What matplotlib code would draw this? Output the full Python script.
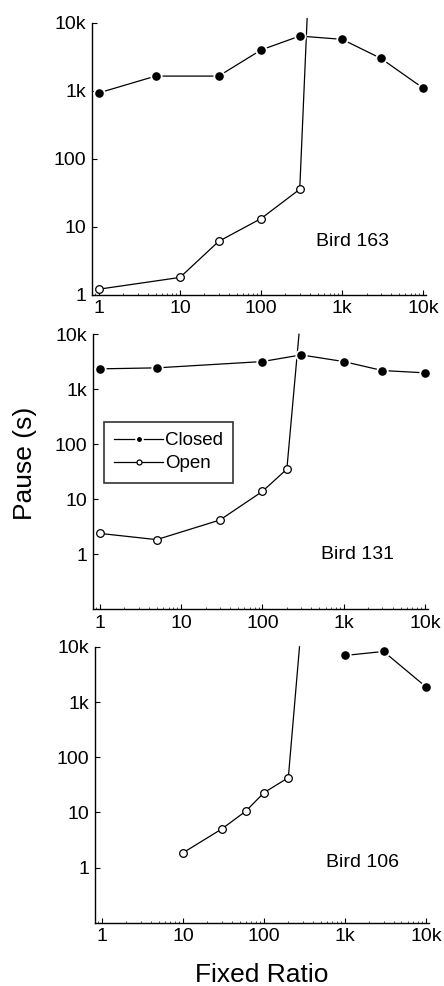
import matplotlib
matplotlib.use('Agg')
import matplotlib.pyplot as plt
from matplotlib.ticker import FixedLocator, FixedFormatter, LogLocator, NullLocator

plt.rcParams['font.family'] = ['Liberation Sans', 'DejaVu Sans']

# Bird 163
b163_closed_x = [1, 5, 30, 100, 300, 1000, 3000, 10000]
b163_closed_y = [930, 1640, 1640, 3970, 6360, 5690, 2990, 1090]
b163_open_x = [1, 10, 30, 100, 300]
b163_open_y = [1.21, 1.8, 6.1, 13.2, 35.6]
b163_rise_x = [300, 370]
b163_rise_y = [35.6, 11500]

# Bird 131
b131_closed_x = [1, 5, 100, 300, 1000, 3000, 10000]
b131_closed_y = [2350, 2450, 3190, 4215, 3190, 2190, 1990]
b131_open_x = [1, 5, 30, 100, 200]
b131_open_y = [2.4, 1.85, 4.2, 13.9, 35.4]
b131_rise_x = [200, 282]
b131_rise_y = [35.4, 10000]

# Bird 106
b106_closed_x = [1000, 3000, 10000]
b106_closed_y = [6970, 8240, 1890]
b106_open_x = [10, 30, 60, 100, 200]
b106_open_y = [1.86, 5.0, 10.6, 22.8, 42.6]
b106_rise_x = [200, 275]
b106_rise_y = [42.6, 10000]

tick_vals = [1, 10, 100, 1000, 10000]
tick_text = ['1', '10', '100', '1k', '10k']

panels = [
    ('Bird 163', b163_closed_x, b163_closed_y, b163_open_x, b163_open_y, b163_rise_x, b163_rise_y),
    ('Bird 131', b131_closed_x, b131_closed_y, b131_open_x, b131_open_y, b131_rise_x, b131_rise_y),
    ('Bird 106', b106_closed_x, b106_closed_y, b106_open_x, b106_open_y, b106_rise_x, b106_rise_y),
]

# [left, bottom, width, height] in figure fraction
boxes = [
    [0.207, 0.701, 0.753, 0.276],
    [0.209, 0.382, 0.755, 0.279],
    [0.214, 0.064, 0.752, 0.280],
]
ylims = [(1, 10000), (0.1, 10000), (0.1, 10000)]
label_pos = [(0.78, 0.195), (0.79, 0.20), (0.80, 0.22)]

fig = plt.figure(figsize=(4.44, 9.86), dpi=100)

for i, (name, cx, cy, ox, oy, rx, ry) in enumerate(panels):
    ax = fig.add_axes(boxes[i])
    ax.set_xscale('log')
    ax.set_yscale('log')

    ax.plot(rx, ry, color='black', lw=0.9, clip_on=False, zorder=2)
    ax.plot(cx, cy, color='black', lw=0.9, marker='o', markersize=7.5,
            markerfacecolor='black', markeredgecolor='white', markeredgewidth=1.3,
            clip_on=False, zorder=3, label='Closed')
    ax.plot(ox, oy, color='black', lw=0.9, marker='o', markersize=5.5,
            markerfacecolor='white', markeredgecolor='black', markeredgewidth=0.9,
            clip_on=False, zorder=3, label='Open')

    ax.set_xlim(0.82, 10900)
    ax.set_ylim(*ylims[i])

    for s in ['top', 'right']:
        ax.spines[s].set_visible(False)
    for s in ['left', 'bottom']:
        ax.spines[s].set_linewidth(1.0)

    ax.xaxis.set_major_locator(FixedLocator(tick_vals))
    ax.xaxis.set_major_formatter(FixedFormatter(tick_text))
    ax.xaxis.set_minor_locator(LogLocator(base=10, subs=range(2, 10)))
    ax.yaxis.set_major_locator(FixedLocator(tick_vals))
    ax.yaxis.set_major_formatter(FixedFormatter(tick_text))
    ax.yaxis.set_minor_locator(NullLocator())
    ax.tick_params(which='major', direction='in', length=3.5, width=0.8,
                   labelsize=14, pad=4)
    ax.tick_params(which='minor', direction='in', length=1.5, width=0.5)

    ax.text(label_pos[i][0], label_pos[i][1], name, transform=ax.transAxes,
            ha='center', va='center', fontsize=14)

    if i == 1:
        leg = ax.legend(loc='upper left', bbox_to_anchor=(0.005, 0.715),
                        fontsize=13.5, frameon=True, fancybox=False,
                        edgecolor='black', handlelength=2.6, handletextpad=0.1,
                        borderpad=0.55, labelspacing=0.3, markerscale=0.65)
        leg.get_frame().set_linewidth(1.2)

fig.text(0.056, 0.530, 'Pause (s)', rotation=90, ha='center', va='center', fontsize=19)
fig.text(0.59, 0.011, 'Fixed Ratio', ha='center', va='center', fontsize=19)

fig.savefig('out.png', dpi=100)
